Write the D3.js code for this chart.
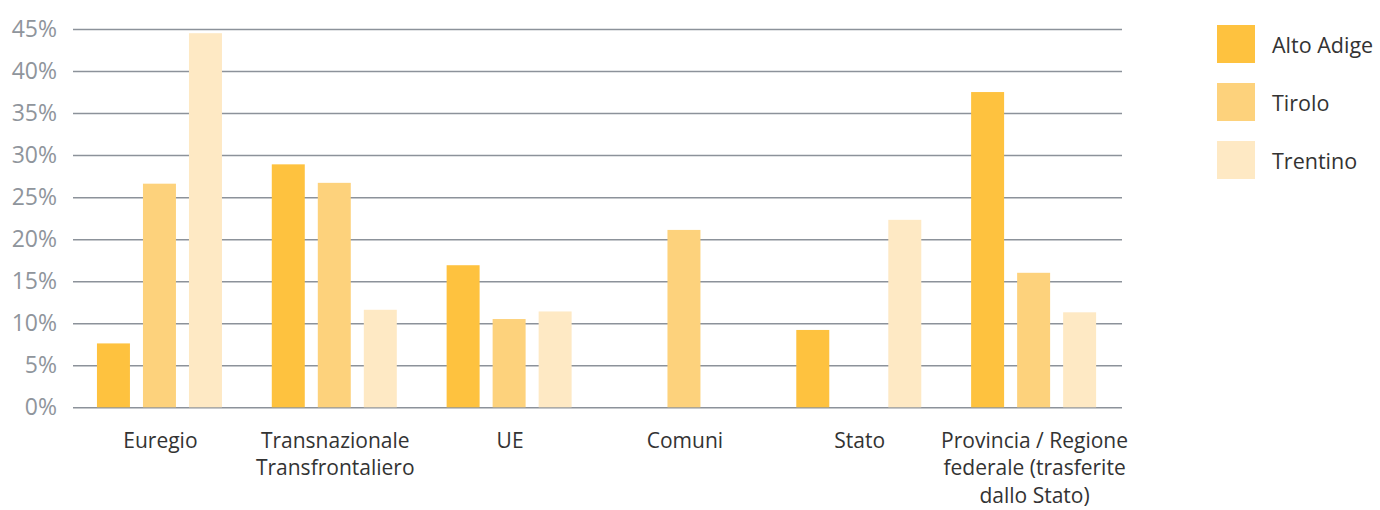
<!DOCTYPE html>
<html><head><meta charset="utf-8">
<script src="https://cdn.jsdelivr.net/npm/d3@7"></script>
<style>body{margin:0;background:#fff}svg{display:block}</style>
</head><body>
<svg id="c" width="1380" height="510"></svg>
<script>
const categories = [["Euregio"],["Transnazionale","Transfrontaliero"],["UE"],["Comuni"],["Stato"],["Provincia / Regione","federale (trasferite","dallo Stato)"]];
const seriesNames = ["Alto Adige","Tirolo","Trentino"];
const altoAdige = [7.6, 28.9, 16.9, 0, 9.2, 37.5];
const tirolo    = [26.6, 26.7, 10.5, 21.1, 0, 16.0];
const trentino  = [44.5, 11.6, 11.4, 0, 22.3, 11.3];
const yTicks = [0,5,10,15,20,25,30,35,40,45];
const colors = ["#fec23f","#fdd27c","#fee9c4"];

const svg = d3.select("#c");
const left = 73, right = 1122, y0 = 407.3, yTop = 29;
const x0 = d3.scaleBand().domain(d3.range(categories.length)).range([left,right]).padding(0);
const bw = x0.bandwidth();
const x1 = d3.scaleBand().domain(d3.range(3)).range([bw*0.137, bw*0.852]).paddingInner(0.283).paddingOuter(0);
const y = d3.scaleLinear().domain([0,45]).range([y0,yTop]);

const series = [altoAdige, tirolo, trentino];

// gridlines
const grid = svg.append("g").attr("transform",`translate(${left},0)`)
  .call(d3.axisLeft(y).tickValues(yTicks).tickSize(-(right-left)).tickFormat(""));
grid.select(".domain").remove();
grid.selectAll(".tick line").attr("stroke","#8c929a").attr("stroke-width",1.5);

// tick labels
const yl = svg.append("g").attr("transform",`translate(57,0)`)
  .call(d3.axisLeft(y).tickValues(yTicks).tickSize(0).tickPadding(0).tickFormat(d=>d+"%"));
yl.select(".domain").remove();
yl.selectAll("text").attr("fill","#8f959c").attr("font-family","'Open Sans'").attr("font-size",23).attr("dy","0.32em");

// bars
const g = svg.append("g");
categories.forEach((c,i)=>{
  series.forEach((s,j)=>{
    if (s[i] > 0) {
      g.append("rect")
        .attr("x", x0(i)+x1(j))
        .attr("y", y(s[i]))
        .attr("width", x1.bandwidth())
        .attr("height", y0 - y(s[i]))
        .attr("fill", colors[j]);
    }
  });
});

// category labels
categories.forEach((lines,i)=>{
  const t = svg.append("text")
    .attr("x", x0(i)+bw/2).attr("y", 447.5)
    .attr("text-anchor","middle").attr("fill","#333")
    .attr("font-family","'Open Sans'").attr("font-size",21);
  lines.forEach((l,k)=>{
    t.append("tspan").attr("x", x0(i)+bw/2).attr("dy", k===0?0:27.5).text(l);
  });
});

// legend
const lg = svg.append("g");
seriesNames.forEach((n,j)=>{
  lg.append("rect").attr("x",1217).attr("y",25+j*58).attr("width",38).attr("height",38).attr("fill",colors[j]);
  lg.append("text").attr("x",1272).attr("y",45+j*58).attr("dy","0.35em")
    .attr("fill","#333").attr("font-family","'Open Sans'").attr("font-size",21.5).text(n);
});
</script>
</body></html>
